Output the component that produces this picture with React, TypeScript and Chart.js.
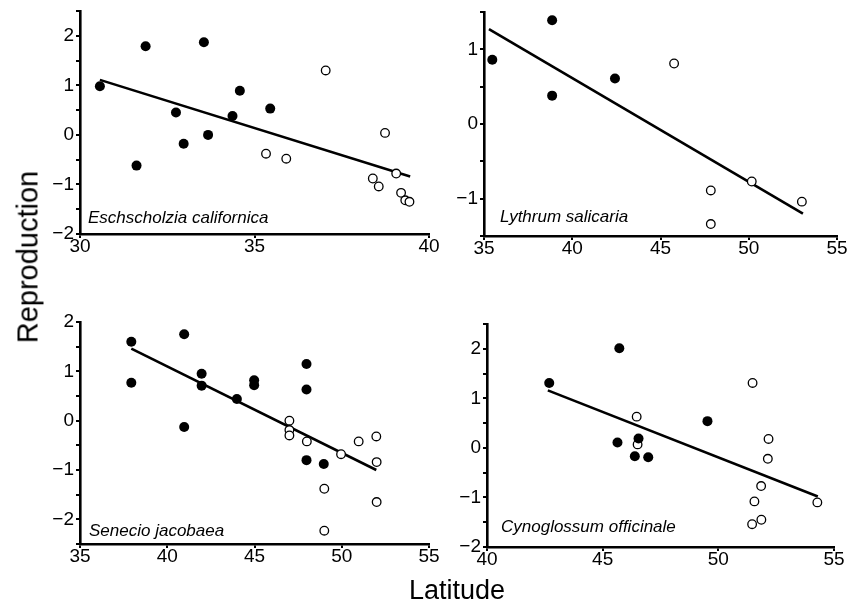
import React, { useEffect, useRef } from "react";
import { Chart, registerables } from "chart.js";

Chart.register(...registerables);

// ---- Eschscholzia californica ----
const eschFilledLat = [30.57, 31.88, 33.55, 32.75, 32.97, 33.67, 31.62, 34.58, 34.37, 35.45];
const eschFilledRep = [0.98, 1.79, 1.87, 0.45, -0.18, 0.0, -0.62, 0.89, 0.38, 0.53];
const eschOpenLat = [37.04, 38.74, 35.33, 35.91, 38.39, 38.56, 39.06, 39.2, 39.32, 39.44];
const eschOpenRep = [1.3, 0.04, -0.38, -0.48, -0.88, -1.04, -0.78, -1.17, -1.32, -1.35];
const eschFitLat = [30.57, 39.46];
const eschFitRep = [1.11, -0.84];

// ---- Lythrum salicaria ----
const lythFilledLat = [35.47, 38.86, 38.86, 42.42];
const lythFilledRep = [0.86, 1.39, 0.38, 0.61];
const lythOpenLat = [45.77, 47.85, 47.85, 50.17, 53.01];
const lythOpenRep = [0.81, -0.89, -1.34, -0.77, -1.04];
const lythFitLat = [35.28, 53.07];
const lythFitRep = [1.27, -1.2];

// ---- Senecio jacobaea ----
const seneFilledLat = [37.94, 37.94, 40.97, 40.97, 41.97, 41.97, 43.99, 44.98, 44.98, 47.98, 47.98, 47.98, 48.97];
const seneFilledRep = [1.6, 0.77, 1.75, -0.13, 0.95, 0.71, 0.44, 0.82, 0.72, 1.15, 0.63, -0.8, -0.88];
const seneOpenLat = [47, 47, 47, 48, 49.96, 50.97, 51.98, 52, 52, 49, 49];
const seneOpenRep = [0.0, -0.19, -0.3, -0.42, -0.68, -0.42, -0.32, -0.84, -1.65, -1.38, -2.23];
const seneFitLat = [37.94, 51.98];
const seneFitRep = [1.46, -1.0];

// ---- Cynoglossum officinale ----
const cynoFilledLat = [42.69, 45.72, 45.64, 46.55, 46.39, 46.97, 49.53];
const cynoFilledRep = [1.31, 2.01, 0.11, 0.19, -0.17, -0.19, 0.54];
const cynoOpenLat = [46.47, 46.51, 51.48, 52.17, 52.14, 51.85, 51.56, 51.86, 51.46, 54.28];
const cynoOpenRep = [0.63, 0.07, 1.31, 0.18, -0.22, -0.77, -1.08, -1.45, -1.54, -1.1];
const cynoFitLat = [42.63, 54.3];
const cynoFitRep = [1.16, -0.98];

const speciesNames = ["Eschscholzia californica", "Lythrum salicaria", "Senecio jacobaea", "Cynoglossum officinale"];
const xTitle = "Latitude";
const yTitle = "Reproduction";

const FONT = "'Liberation Sans', Arial, Helvetica, sans-serif";
const PAD_L = 50;
const PAD_T = 14;
const PAD_R = 20;
const PAD_B = 35;

type PanelCfg = {
  name: string;
  filledLat: number[];
  filledRep: number[];
  openLat: number[];
  openRep: number[];
  fitLat: number[];
  fitRep: number[];
  xMin: number;
  xMax: number;
  yMin: number;
  yMax: number;
  area: { left: number; top: number; right: number; bottom: number };
  label: { dx: number; dy: number };
};

const panels: PanelCfg[] = [
  {
    name: speciesNames[0],
    filledLat: eschFilledLat, filledRep: eschFilledRep,
    openLat: eschOpenLat, openRep: eschOpenRep,
    fitLat: eschFitLat, fitRep: eschFitRep,
    xMin: 30, xMax: 40, yMin: -2, yMax: 2.5,
    area: { left: 80, top: 11, right: 429, bottom: 234 },
    label: { dx: 8, dy: 11 },
  },
  {
    name: speciesNames[1],
    filledLat: lythFilledLat, filledRep: lythFilledRep,
    openLat: lythOpenLat, openRep: lythOpenRep,
    fitLat: lythFitLat, fitRep: lythFitRep,
    xMin: 35, xMax: 55, yMin: -1.5, yMax: 1.5,
    area: { left: 484, top: 12, right: 837, bottom: 236 },
    label: { dx: 16, dy: 14 },
  },
  {
    name: speciesNames[2],
    filledLat: seneFilledLat, filledRep: seneFilledRep,
    openLat: seneOpenLat, openRep: seneOpenRep,
    fitLat: seneFitLat, fitRep: seneFitRep,
    xMin: 35, xMax: 55, yMin: -2.5, yMax: 2,
    area: { left: 80, top: 322, right: 429, bottom: 544 },
    label: { dx: 9, dy: 8 },
  },
  {
    name: speciesNames[3],
    filledLat: cynoFilledLat, filledRep: cynoFilledRep,
    openLat: cynoOpenLat, openRep: cynoOpenRep,
    fitLat: cynoFitLat, fitRep: cynoFitRep,
    xMin: 40, xMax: 55, yMin: -2, yMax: 2.5,
    area: { left: 487, top: 324, right: 834, bottom: 547 },
    label: { dx: 14, dy: 15 },
  },
];

const toPts = (xs: number[], ys: number[]) => xs.map((x, i) => ({ x, y: ys[i] }));

function Panel({ cfg }: { cfg: PanelCfg }) {
  const ref = useRef<HTMLCanvasElement | null>(null);
  const width = cfg.area.right - cfg.area.left + PAD_L + PAD_R;
  const height = cfg.area.bottom - cfg.area.top + PAD_T + PAD_B;

  useEffect(() => {
    if (!ref.current) return;
    const labelPlugin = {
      id: "speciesLabel",
      afterDraw(chart: any) {
        const ctx = chart.ctx;
        const a = chart.chartArea;
        ctx.save();
        ctx.font = `italic 17px ${FONT}`;
        ctx.fillStyle = "#000";
        ctx.textAlign = "left";
        ctx.textBaseline = "alphabetic";
        ctx.fillText(cfg.name, a.left + cfg.label.dx, a.bottom - cfg.label.dy);
        ctx.restore();
      },
    };
    const chart = new Chart(ref.current, {
      type: "scatter",
      data: {
        datasets: [
          {
            label: "filled",
            data: toPts(cfg.filledLat, cfg.filledRep),
            backgroundColor: "#000",
            borderColor: "#000",
            borderWidth: 0,
            pointRadius: 5,
            order: 1,
          },
          {
            label: "open",
            data: toPts(cfg.openLat, cfg.openRep),
            backgroundColor: "#fff",
            borderColor: "#000",
            borderWidth: 1.3,
            pointRadius: 4.3,
            order: 2,
          },
          {
            label: "fit",
            data: toPts(cfg.fitLat, cfg.fitRep),
            showLine: true,
            borderColor: "#000",
            borderWidth: 2.6,
            pointRadius: 0,
            fill: false,
            order: 3,
          } as any,
        ],
      },
      options: {
        responsive: false,
        animation: false,
        devicePixelRatio: 1,
        layout: { padding: { top: PAD_T, right: PAD_R, left: 0, bottom: 0 } },
        plugins: { legend: { display: false }, tooltip: { enabled: false } },
        scales: {
          x: {
            type: "linear",
            min: cfg.xMin,
            max: cfg.xMax,
            afterFit: (s: any) => { s.height = PAD_B; },
            border: { display: true, color: "#000", width: 2.6 },
            grid: { drawOnChartArea: false, drawTicks: true, tickLength: 4, color: "#000", lineWidth: 2 },
            ticks: {
              stepSize: 5,
              color: "#000",
              padding: -3,
              font: { family: FONT, size: 19 },
              maxRotation: 0,
            },
          },
          y: {
            type: "linear",
            min: cfg.yMin,
            max: cfg.yMax,
            afterFit: (s: any) => { s.width = PAD_L; },
            border: { display: true, color: "#000", width: 2.6 },
            grid: { drawOnChartArea: false, drawTicks: true, tickLength: 4, color: "#000", lineWidth: 2 },
            ticks: {
              stepSize: 0.5,
              color: "#000",
              padding: 2,
              font: { family: FONT, size: 19 },
              autoSkip: false,
              callback: (v: any) => {
                const n = Number(v);
                if (Math.abs(n - Math.round(n)) > 1e-9) return "";
                const r = Math.round(n);
                return r < 0 ? "\u2212" + Math.abs(r) : String(r);
              },
            },
          },
        },
      },
      plugins: [labelPlugin],
    });
    return () => chart.destroy();
  }, [cfg]);

  return (
    <canvas
      ref={ref}
      width={width}
      height={height}
      style={{
        position: "absolute",
        left: cfg.area.left - PAD_L,
        top: cfg.area.top - PAD_T,
        width,
        height,
      }}
    />
  );
}

export default function App() {
  return (
    <div
      style={{
        position: "absolute",
        left: 0,
        top: 0,
        width: 853,
        height: 605,
        overflow: "hidden",
        background: "#fff",
        fontFamily: FONT,
      }}
    >
      {panels.map((p) => (
        <Panel key={p.name} cfg={p} />
      ))}
      <div
        style={{
          position: "absolute",
          left: 28,
          top: 257,
          transform: "translate(-50%, -50%) rotate(-90deg)",
          fontSize: 29,
          lineHeight: 1,
          whiteSpace: "nowrap",
          color: "#000",
        }}
      >
        {yTitle}
      </div>
      <div
        style={{
          position: "absolute",
          left: 457,
          top: 590,
          transform: "translate(-50%, -50%)",
          fontSize: 27,
          lineHeight: 1,
          whiteSpace: "nowrap",
          color: "#000",
        }}
      >
        {xTitle}
      </div>
    </div>
  );
}
